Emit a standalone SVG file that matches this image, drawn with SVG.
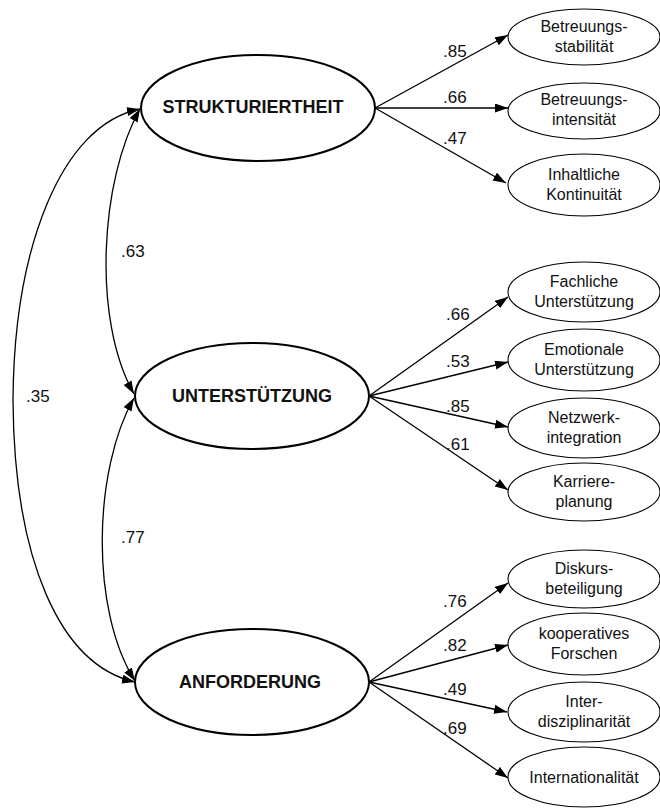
<svg xmlns="http://www.w3.org/2000/svg" width="660" height="809" viewBox="0 0 660 809">
<style>
.lat{fill:#fff;stroke:#000;stroke-width:2}
.ind{fill:#fff;stroke:#000;stroke-width:1.1}
.lt{font-family:"Liberation Sans",Arial,sans-serif;font-weight:bold;font-size:18px;text-anchor:middle;fill:#111}
.it{font-family:"Liberation Sans",Arial,sans-serif;font-size:16px;text-anchor:middle;fill:#111}
.nl{font-family:"Liberation Sans",Arial,sans-serif;font-size:17px;fill:#111}
.c{fill:none;stroke:#000;stroke-width:1.3}
</style>
<defs>
<marker id="ah" markerUnits="userSpaceOnUse" markerWidth="14" markerHeight="10" refX="13" refY="4.5" orient="auto-start-reverse">
<path d="M0,0 L13,4.5 L0,9 z" fill="#000"/>
</marker>
</defs>
<g id="connectors">
<path class="c" d="M375,108 L508,35" marker-end="url(#ah)"/>
<path class="c" d="M375,108 L508,108" marker-end="url(#ah)"/>
<path class="c" d="M375,108 L506,183" marker-end="url(#ah)"/>
<path class="c" d="M369,396 L508,297" marker-end="url(#ah)"/>
<path class="c" d="M369,396 L508,362" marker-end="url(#ah)"/>
<path class="c" d="M369,396 L508,427" marker-end="url(#ah)"/>
<path class="c" d="M369,396 L508,490" marker-end="url(#ah)"/>
<path class="c" d="M369,682 L508,583" marker-end="url(#ah)"/>
<path class="c" d="M369,682 L508,645" marker-end="url(#ah)"/>
<path class="c" d="M369,682 L507,712" marker-end="url(#ah)"/>
<path class="c" d="M369,682 L508,778" marker-end="url(#ah)"/>
<path class="c" d="M140,109 C60,125 14,250 13,400 C14,560 60,665 135,682" marker-start="url(#ah)" marker-end="url(#ah)"/>
<path class="c" d="M140,109 C100,180 92,320 134,394" marker-start="url(#ah)" marker-end="url(#ah)"/>
<path class="c" d="M134,398 C93,470 90,610 135,681" marker-start="url(#ah)" marker-end="url(#ah)"/>
<text class="nl" x="443" y="57">.85</text>
<text class="nl" x="443" y="103">.66</text>
<text class="nl" x="443" y="144">.47</text>
<text class="nl" x="446" y="320">.66</text>
<text class="nl" x="446" y="367">.53</text>
<text class="nl" x="446" y="412">.85</text>
<text class="nl" x="446" y="450">.61</text>
<text class="nl" x="443" y="607">.76</text>
<text class="nl" x="443" y="651">.82</text>
<text class="nl" x="443" y="695">.49</text>
<text class="nl" x="443" y="734">.69</text>
<text class="nl" x="121" y="257">.63</text>
<text class="nl" x="121" y="543">.77</text>
<text class="nl" x="26" y="402">.35</text>
</g>
<g id="strukturiertheit">
<ellipse class="lat" cx="258" cy="108" rx="117" ry="53"/>
<text class="lt" x="253" y="113">STRUKTURIERTHEIT</text>
</g>
<g id="unterstuetzung">
<ellipse class="lat" cx="252" cy="396" rx="117" ry="53"/>
<text class="lt" x="252" y="402">UNTERSTÜTZUNG</text>
</g>
<g id="anforderung">
<ellipse class="lat" cx="252" cy="682" rx="117" ry="53"/>
<text class="lt" x="250" y="688">ANFORDERUNG</text>
</g>
<g id="betreuungsstabilitaet">
<ellipse class="ind" cx="584" cy="37" rx="76" ry="28"/>
<text class="it" x="584" y="32">Betreuungs-</text>
<text class="it" x="584" y="52">stabilität</text>
</g>
<g id="betreuungsintensitaet">
<ellipse class="ind" cx="584" cy="111" rx="76" ry="28"/>
<text class="it" x="584" y="105">Betreuungs-</text>
<text class="it" x="584" y="125">intensität</text>
</g>
<g id="inhaltliche-kontinuitaet">
<ellipse class="ind" cx="584" cy="185" rx="76" ry="31"/>
<text class="it" x="584" y="180">Inhaltliche</text>
<text class="it" x="584" y="200">Kontinuität</text>
</g>
<g id="fachliche-unterstuetzung">
<ellipse class="ind" cx="584" cy="292" rx="76" ry="30"/>
<text class="it" x="584" y="287">Fachliche</text>
<text class="it" x="584" y="307">Unterstützung</text>
</g>
<g id="emotionale-unterstuetzung">
<ellipse class="ind" cx="584" cy="360" rx="76" ry="31"/>
<text class="it" x="584" y="355">Emotionale</text>
<text class="it" x="584" y="375">Unterstützung</text>
</g>
<g id="netzwerkintegration">
<ellipse class="ind" cx="584" cy="428" rx="76" ry="30"/>
<text class="it" x="584" y="423">Netzwerk-</text>
<text class="it" x="584" y="443">integration</text>
</g>
<g id="karriereplanung">
<ellipse class="ind" cx="584" cy="492" rx="76" ry="29"/>
<text class="it" x="584" y="487">Karriere-</text>
<text class="it" x="584" y="507">planung</text>
</g>
<g id="diskursbeteiligung">
<ellipse class="ind" cx="584" cy="579" rx="76" ry="29"/>
<text class="it" x="584" y="574">Diskurs-</text>
<text class="it" x="584" y="594">beteiligung</text>
</g>
<g id="kooperatives-forschen">
<ellipse class="ind" cx="584" cy="644" rx="76" ry="31"/>
<text class="it" x="584" y="639">kooperatives</text>
<text class="it" x="584" y="659">Forschen</text>
</g>
<g id="interdisziplinaritaet">
<ellipse class="ind" cx="584" cy="712" rx="76" ry="30"/>
<text class="it" x="584" y="707">Inter-</text>
<text class="it" x="584" y="727">disziplinarität</text>
</g>
<g id="internationalitaet">
<ellipse class="ind" cx="584" cy="777" rx="76" ry="30"/>
<text class="it" x="584" y="783">Internationalität</text>
</g>
</svg>
